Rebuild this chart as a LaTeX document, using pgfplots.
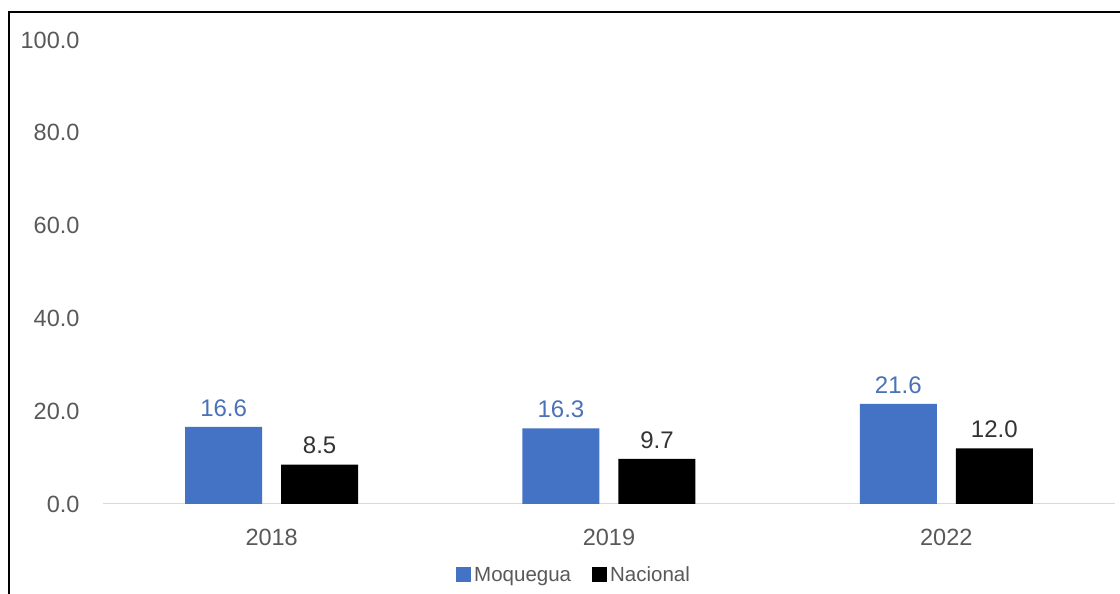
\documentclass[border=0pt]{standalone}
\usepackage{fontspec}
\setmainfont{Liberation Sans}
\usepackage{pgfplots}
\pgfplotsset{compat=1.18}
\definecolor{mblue}{HTML}{4472C4}
\definecolor{lblue}{HTML}{4A72B8}
\definecolor{tgray}{HTML}{595959}
\begin{document}
\begin{tikzpicture}[x=1pt,y=1pt]
\useasboundingbox (0,0) rectangle (1120,594);
\fill[white] (0,0) rectangle (1120,594);
\draw[line width=2pt,black] (9,0) -- (9,582) -- (1120,582);
\begin{axis}[
  at={(103pt,90pt)}, anchor=south west,
  scale only axis, width=1012pt, height=464pt,
  ymin=0, ymax=100, xmin=-0.5, xmax=2.5,
  ytick={0,20,40,60,80,100},
  xtick=data, xticklabels={2018,2019,2022},
  axis x line=bottom, axis y line=left,
  x axis line style={draw=black!15, line width=1pt, -},
  y axis line style={draw=none},
  major tick length=0pt,
  /pgf/number format/assume math mode=true,
  yticklabel={\pgfmathprintnumber[fixed,fixed zerofill,precision=1]{\tick}},
  yticklabel style={font=\fontsize{23.5}{28}\selectfont, text=tgray, xshift=-20pt},
  xticklabel style={font=\fontsize{23.5}{28}\selectfont, text=tgray, yshift=-22pt},
  ybar, bar width=77pt,
  nodes near coords={\pgfmathprintnumber[fixed,fixed zerofill,precision=1]{\pgfplotspointmeta}},
  nodes near coords style={font=\fontsize{24}{28}\selectfont, anchor=south, yshift=7pt},
  legend style={at={(0.465,-0.153)}, anchor=center, draw=none, fill=none,
    legend columns=2, font=\fontsize{20.5}{24}\selectfont, text=tgray,
    /tikz/every even column/.append style={column sep=20pt},
    /tikz/every odd column/.append style={column sep=0pt},
    inner sep=0pt, nodes={inner sep=1pt}},
  legend image code/.code={\fill[#1] (0pt,-7pt) rectangle (15pt,8pt); \path (17pt,0pt);},
]
\addplot[fill=mblue, draw=none, bar shift=-48pt, nodes near coords style={text=lblue}]
  coordinates {(0,16.6) (1,16.3) (2,21.6)};
\addplot[fill=black, draw=none, bar shift=48pt, nodes near coords style={text=black!80}]
  coordinates {(0,8.5) (1,9.7) (2,12.0)};
\legend{Moquegua, Nacional}
\end{axis}
\end{tikzpicture}
\end{document}
